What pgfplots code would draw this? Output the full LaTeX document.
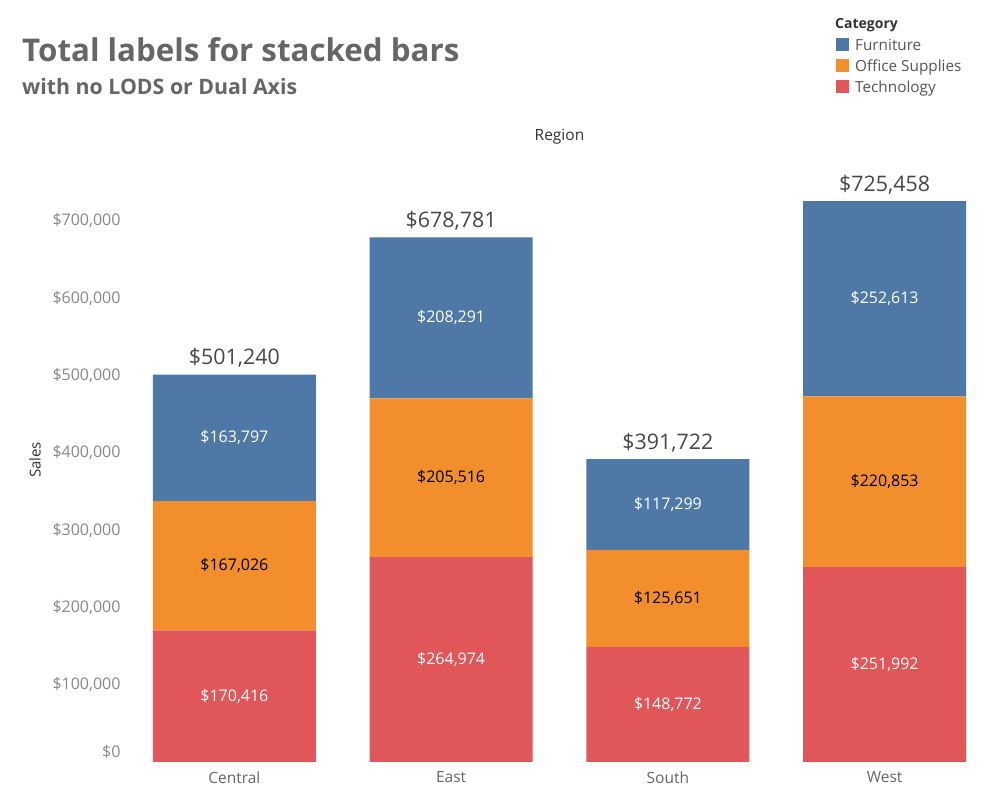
\documentclass[border=0pt]{standalone}
\usepackage{fontspec}
\setmainfont{Open Sans}
\usepackage{pgfplots}
\usepackage{pgfplotstable}
\pgfplotsset{compat=1.18}
\definecolor{furn}{HTML}{4E79A7}
\definecolor{office}{HTML}{F28E2B}
\definecolor{tech}{HTML}{E15759}
\definecolor{titlegray}{HTML}{666666}
\definecolor{tickgray}{HTML}{888888}
\definecolor{darktext}{HTML}{333333}
\definecolor{totaltext}{HTML}{555555}
\definecolor{sumtext}{HTML}{484848}

\pgfplotstableread{
x tech office furn total
0 170416 167026 163797 501240
1 264974 205516 208291 678781
2 148772 125651 117299 391722
3 251992 220853 252613 725458
}\salesdata

\pgfplotstableread{
x y label
0 85208 {\$170,416}
1 132487 {\$264,974}
2 74386 {\$148,772}
3 125996 {\$251,992}
}\techlab
\pgfplotstableread{
x y label
0 253929 {\$167,026}
1 367732 {\$205,516}
2 211598 {\$125,651}
3 362419 {\$220,853}
}\officelab
\pgfplotstableread{
x y label
0 419341 {\$163,797}
1 574636 {\$208,291}
2 333073 {\$117,299}
3 599152 {\$252,613}
}\furnlab
\pgfplotstableread{
x y label
0 501240 {\$501,240}
1 678781 {\$678,781}
2 391722 {\$391,722}
3 725458 {\$725,458}
}\totallab

\begin{document}
\begin{tikzpicture}
\useasboundingbox (0pt,0pt) rectangle (999pt,799pt);
\fill[white] (0pt,0pt) rectangle (999pt,799pt);

% titles
\node[anchor=base west, inner sep=0, text=titlegray, font=\fontsize{31.3}{31.3}\selectfont\bfseries] at (22pt,737pt) {Total labels for stacked bars};
\node[anchor=base west, inner sep=0, text=titlegray, font=\fontsize{21.3}{21.3}\selectfont\bfseries] at (22pt,704pt) {with no LODS or Dual Axis};

% legend
\node[anchor=base west, inner sep=0, text=darktext, font=\fontsize{14}{14}\selectfont\bfseries] at (835pt,770pt) {Category};
\fill[furn] (836pt,748pt) rectangle (849pt,761pt);
\fill[office] (836pt,727pt) rectangle (849pt,740pt);
\fill[tech] (836pt,706pt) rectangle (849pt,719pt);
\node[anchor=base west, inner sep=0, text=totaltext, font=\fontsize{15.3}{15.3}\selectfont] at (855pt,748.5pt) {Furniture};
\node[anchor=base west, inner sep=0, text=totaltext, font=\fontsize{15.3}{15.3}\selectfont] at (855pt,727.5pt) {Office Supplies};
\node[anchor=base west, inner sep=0, text=totaltext, font=\fontsize{15.3}{15.3}\selectfont] at (855pt,706.5pt) {Technology};

% header and axis title
\node[anchor=base, inner sep=0, text=darktext, font=\fontsize{15.5}{15.5}\selectfont] at (559.5pt,658pt) {Region};
\node[rotate=90, inner sep=0, text=darktext, font=\fontsize{15}{15}\selectfont] at (35pt,339pt) {Sales};

\begin{axis}[
  at={(126pt,37pt)}, anchor=south west,
  scale only axis, width=867pt, height=612pt,
  xmin=-0.5, xmax=3.5, ymin=0, ymax=791700,
  ybar stacked, bar width=163pt,
  axis line style={draw=none}, tick style={draw=none},
  xtick={0,1,2,3}, xticklabels={Central,East,South,West},
  xticklabel style={font=\fontsize{15.5}{15.5}\selectfont, text=titlegray, yshift=-6pt},
  scaled y ticks=false,
  ytick={100000,200000,300000,400000,500000,600000,700000},
  yticklabels={{\$100,000},{\$200,000},{\$300,000},{\$400,000},{\$500,000},{\$600,000},{\$700,000}},
  extra y ticks={0}, extra y tick labels={\$0},
  extra y tick style={yticklabel style={yshift=10pt}},
  yticklabel style={font=\fontsize{16}{16}\selectfont, text=tickgray, xshift=-2pt},
  clip=false,
]
\addplot[fill=tech, draw=none] table[x=x, y=tech] {\salesdata};
\addplot[fill=office, draw=none] table[x=x, y=office] {\salesdata};
\addplot[fill=furn, draw=none] table[x=x, y=furn] {\salesdata};
\end{axis}

\begin{axis}[
  at={(126pt,37pt)}, anchor=south west,
  scale only axis, width=867pt, height=612pt,
  xmin=-0.5, xmax=3.5, ymin=0, ymax=791700,
  hide axis, clip=false,
  nodes near coords, point meta=explicit symbolic,
]
\addplot[only marks, mark=none, every node near coord/.append style={anchor=center, inner sep=0, text=white, font=\fontsize{16}{16}\selectfont}] table[x=x, y=y, meta=label] {\techlab};
\addplot[only marks, mark=none, every node near coord/.append style={anchor=center, inner sep=0, text=black, font=\fontsize{16}{16}\selectfont}] table[x=x, y=y, meta=label] {\officelab};
\addplot[only marks, mark=none, every node near coord/.append style={anchor=center, inner sep=0, text=white, font=\fontsize{16}{16}\selectfont}] table[x=x, y=y, meta=label] {\furnlab};
\addplot[only marks, mark=none, every node near coord/.append style={anchor=south, inner sep=0, yshift=7pt, text=sumtext, font=\fontsize{21.4}{21.4}\selectfont}] table[x=x, y=y, meta=label] {\totallab};
\end{axis}
\end{tikzpicture}
\end{document}
